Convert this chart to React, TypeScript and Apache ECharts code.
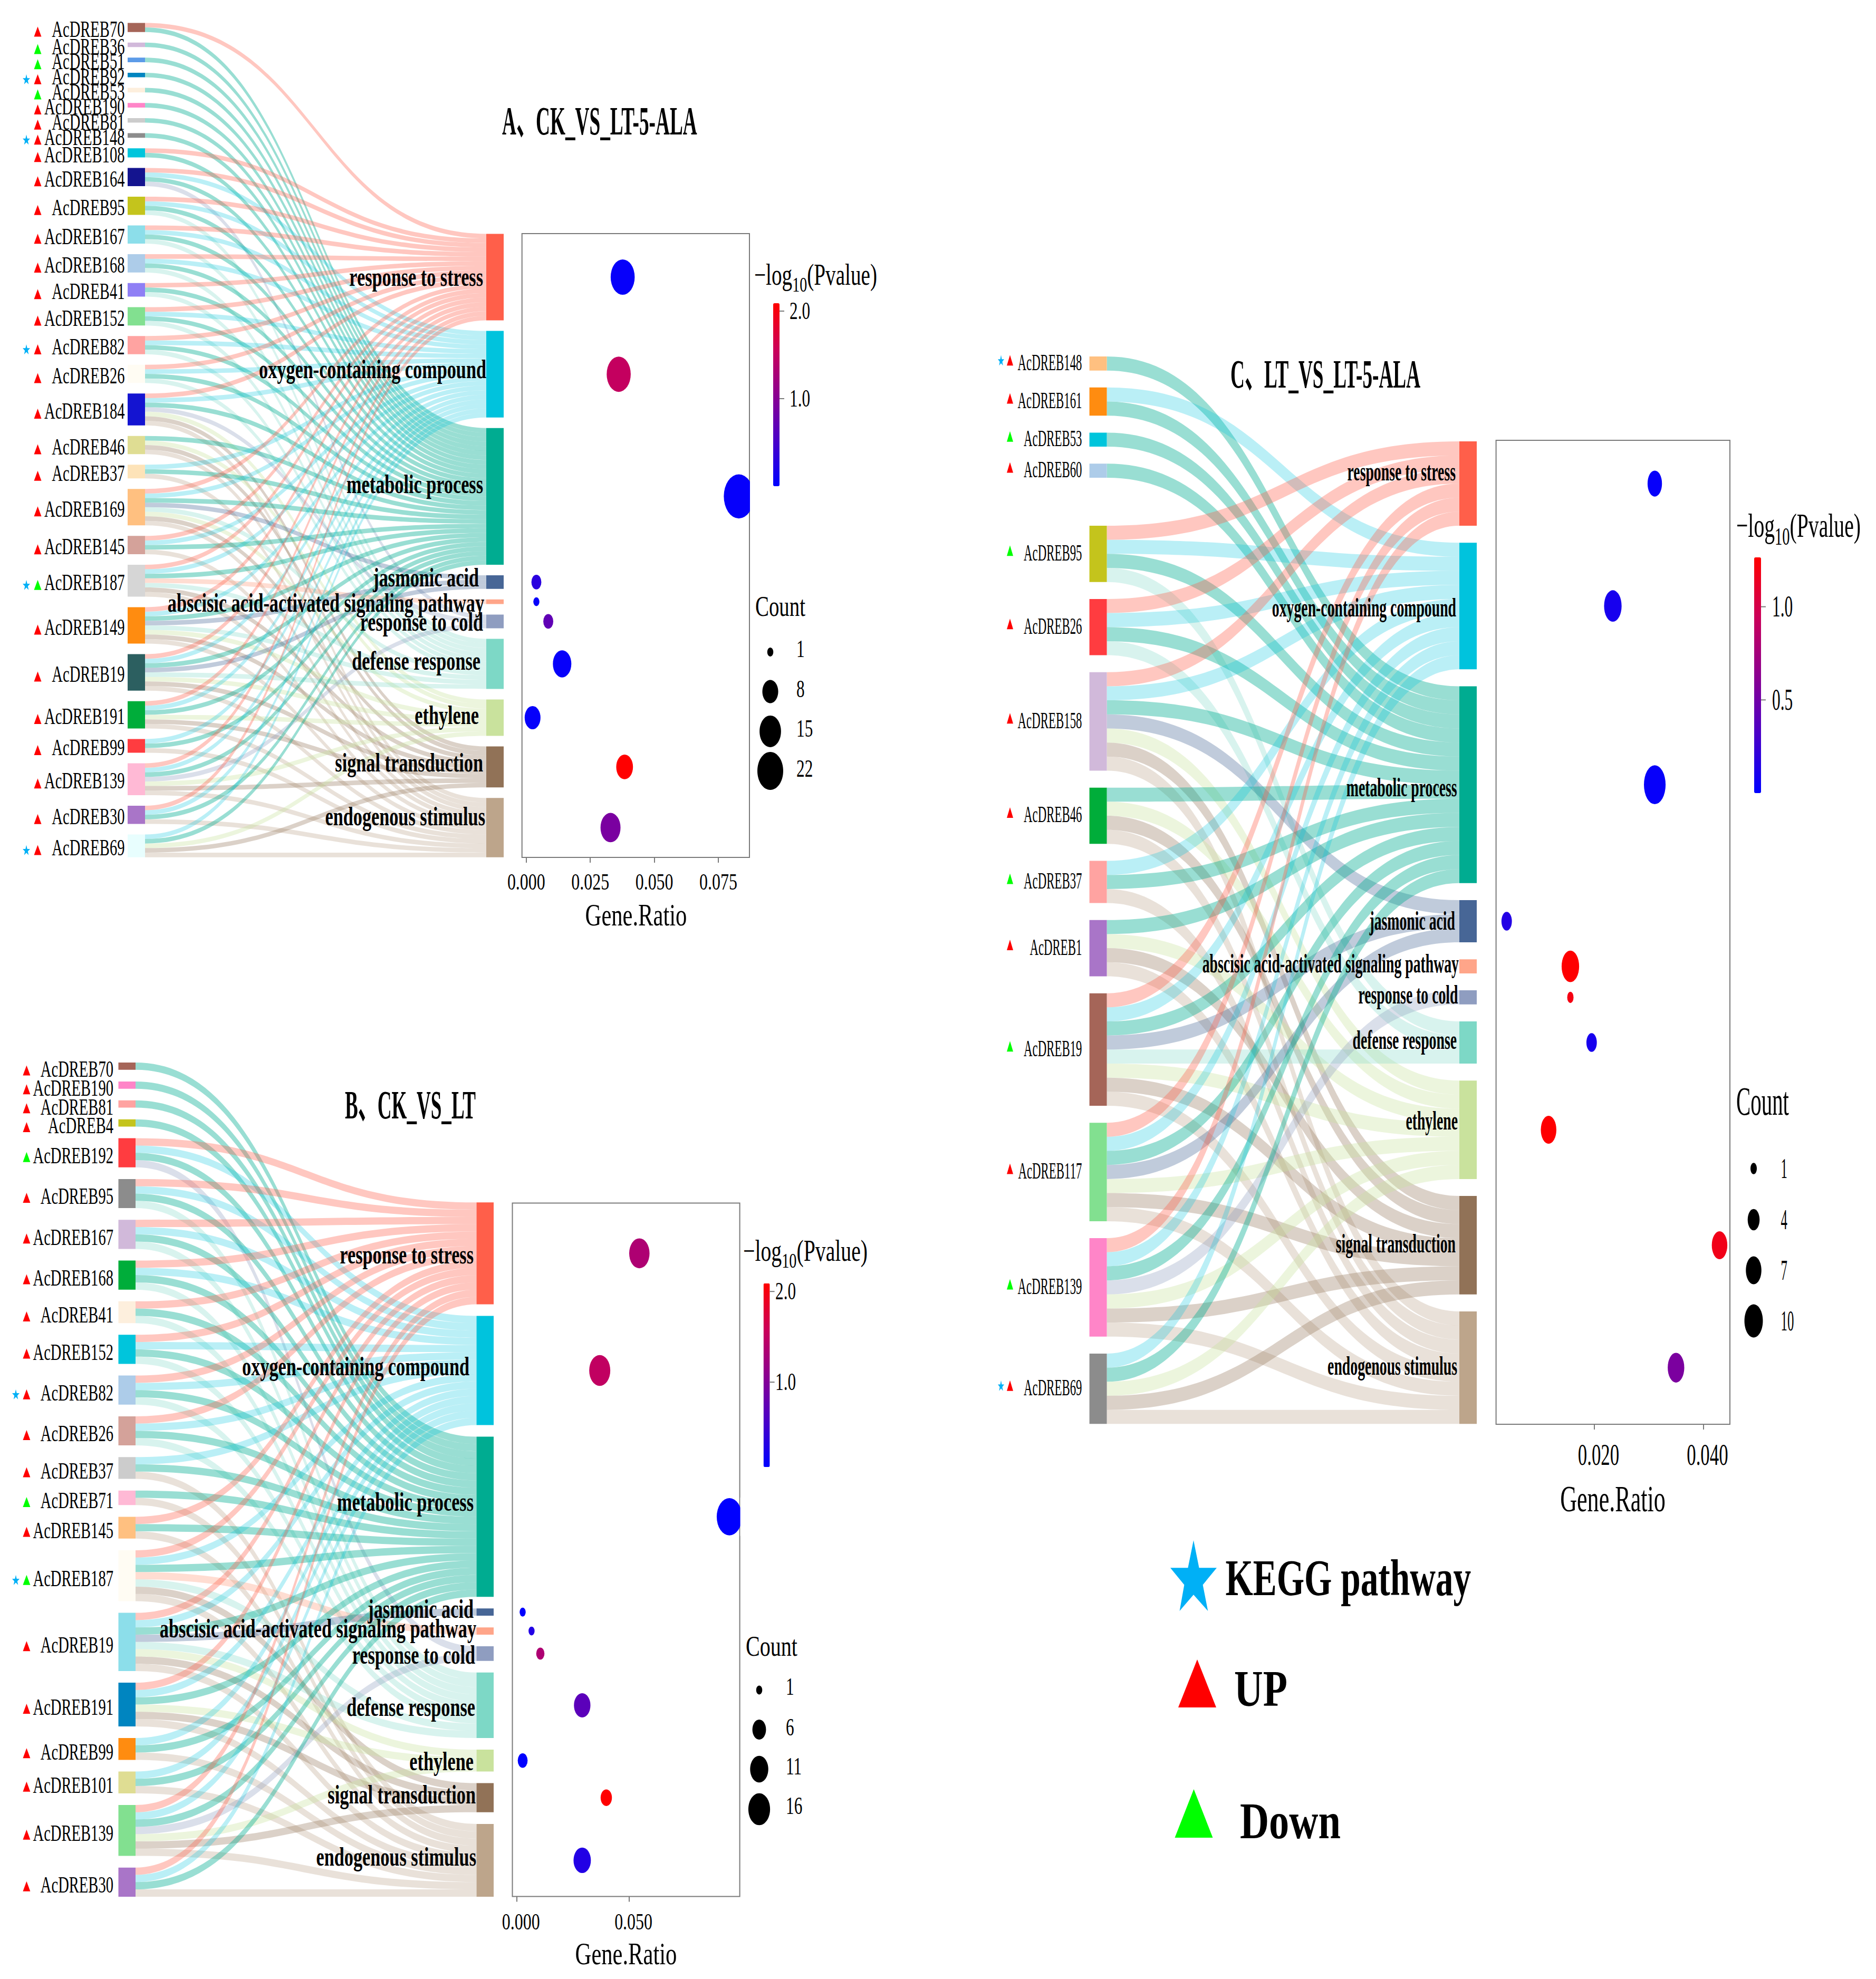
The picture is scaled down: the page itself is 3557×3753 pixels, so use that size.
import React, { useEffect, useRef } from "react";
import * as echarts from "echarts";

const FONT = '"Liberation Serif","Times New Roman","Noto Sans CJK SC",serif';

// ---- shared terms
const TERMS = ["response to stress","oxygen-containing compound","metabolic process","jasmonic acid","abscisic acid-activated signaling pathway","response to cold","defense response","ethylene","signal transduction","endogenous stimulus"];
const TERM_CODES = "SOMJACDETN";
const TERM_COLORS = ["#FF5F4A","#00C3DD","#00AC91","#476696","#FFA589","#8F9DC0","#7DD8C6","#C9E29D","#917257","#BDA58B"];
const LINK_OPACITY = [0.35,0.27,0.4,0.34,0.38,0.33,0.3,0.35,0.33,0.33];
const P_STOPS = ["#0000FF","#4A00C8","#8C0090","#CC0058","#FF0000"];

// ---- panel A
const genesA = ["AcDREB70","AcDREB36","AcDREB51","AcDREB92","AcDREB53","AcDREB190","AcDREB81","AcDREB148","AcDREB108","AcDREB164","AcDREB95","AcDREB167","AcDREB168","AcDREB41","AcDREB152","AcDREB82","AcDREB26","AcDREB184","AcDREB46","AcDREB37","AcDREB169","AcDREB145","AcDREB187","AcDREB149","AcDREB19","AcDREB191","AcDREB99","AcDREB139","AcDREB30","AcDREB69"];
const linksA = ["SM","M","M","M","M","M","M","M","SM","SOMC","SOMD","SOMD","SOMD","SMD","SOMD","SOMD","SOMD","SOMCETN","METN","OMN","SOMJDETN","SOMN","SOMADTN","SOMJDETN","SOMJDETN","SOMETN","OMN","SOMCETN","SOMN","OMETN"];
const marksA = ["U","D","D","*U","D","U","U","*U","U","U","U","U","U","U","U","*U","U","U","U","U","U","U","*D","U","U","U","U","U","U","*U"];
const colorsA = ["#A56558","#D1B9DA","#5C9BE8","#0085C0","#FDEFDD","#FF85C8","#CCCCCC","#8C8C8C","#00C5DC","#14148F","#C4C41C","#8CDEEA","#ADCCE9","#8F7FF5","#82E090","#FFA3A1","#FFFCF3","#1414D1","#DFDD93","#FDE3B8","#FFC080","#D4A29A","#D6D6D6","#FF8C10","#2C5F60","#00AD3A","#FF3C40","#FFB9D5","#A975C8","#E8FEFE"];
const ratioA = [0.03765,0.0361,0.083,0.00395,0.00395,0.0086,0.014,0.00247,0.0384,0.0329];
const pvalA = [0.05,1.5,0.04,0.3,0.05,0.7,0.05,0.04,2.09,0.9];
const countA = [19,19,30,3,1,3,11,8,9,13];
const ticksA = [0,0.025,0.05,0.075];
const sizeLegendA = [1,8,15,22];
const barTicksA = [2,1];

// ---- panel B
const genesB = ["AcDREB70","AcDREB190","AcDREB81","AcDREB4","AcDREB192","AcDREB95","AcDREB167","AcDREB168","AcDREB41","AcDREB152","AcDREB82","AcDREB26","AcDREB37","AcDREB71","AcDREB145","AcDREB187","AcDREB19","AcDREB191","AcDREB99","AcDREB101","AcDREB139","AcDREB30"];
const linksB = ["M","M","M","M","SOMC","SOMD","SOMD","SOMD","SMD","SOMD","SOMD","SOMD","OMN","MN","SMN","SOMADTN","SOMJDETN","SOMETN","OMN","OMN","SOMCETN","SOMN"];
const marksB = ["U","U","U","U","D","U","U","U","U","U","*U","U","U","D","U","*D","U","U","U","U","U","U"];
const colorsB = ["#A56558","#FF85C8","#FFA3A1","#C4C41C","#FF3C40","#8C8C8C","#D1B9DA","#00AD3A","#FDEFDD","#00C5DC","#ADCCE9","#D4A29A","#CCCCCC","#FFB9D5","#FFC080","#FFFCF3","#8CDEEA","#0085C0","#FF8C10","#DFDD93","#82E090","#A975C8"];
const ratioB = [0.0545,0.0369,0.0945,0.00265,0.0066,0.0105,0.0291,0.00265,0.0398,0.0291];
const pvalB = [1.35,1.5,0.07,0.07,0.3,1.35,0.7,0.07,2.09,0.3];
const countB = [14,15,22,1,1,2,9,3,4,10];
const ticksB = [0,0.05];
const sizeLegendB = [1,6,11,16];
const barTicksB = [2,1];

// ---- panel C
const genesC = ["AcDREB148","AcDREB161","AcDREB53","AcDREB60","AcDREB_none","AcDREB95","AcDREB26","AcDREB158","AcDREB46","AcDREB37","AcDREB1","AcDREB19","AcDREB117","AcDREB139","AcDREB69"];
const linksC = ["M","OM","M","M","A","SOMD","SOMD","SOMJETN","METN","OMN","METN","SOMJDETN","SOMJETN","SOMCETN","OMETN"];
const marksC = ["*U","U","D","U","","D","U","U","U","D","U","D","U","D","*U"];
const colorsC = ["#FFC080","#FF8C10","#00C5DC","#ADCCE9","#FFFFFF","#C4C41C","#FF3C40","#D1B9DA","#00AD3A","#FFA3A1","#A975C8","#A56558","#82E090","#FF85C8","#8C8C8C"];
const ratioC = [0.0311,0.0234,0.0311,0.0039,0.0156,0.0156,0.0195,0.0116,0.043,0.035];
const pvalC = [0.03,0.1,0.03,0.15,1.26,1.2,0.1,1.26,1.18,0.55];
const countC = [6,9,14,3,9,1,3,7,7,8];
const ticksC = [0.02,0.04];
const sizeLegendC = [1,4,7,10];
const barTicksC = [1,0.5];

// ---- layout (pixels of the page)
const PANELS = [
  { genes: genesA, links: linksA, marks: marksA, colors: colorsA, ratio: ratioA, pval: pvalA, count: countA, ticks: ticksA, tickFmt: 3, sizes: sizeLegendA, barTicks: barTicksA,
    nodeL: 242, nodeR: 955, nodeW: 33, top: 43.4, unit: 8.64, gap: 20,
    geneRight: 236.5, geneSX: 0.65, geneDy: 3, triX: 71.5, triW: 14, triH: 19, triDy: 8, starX: 50, starW: 14, starH: 19,
    termSX: 0.685, termDy: -2, termPos: [[916,527],[922,702],[916,920],[908,1097],[918,1145],[916,1181],[911,1255],[908,1358],[916,1448],[920,1550]],
    title: "A、CK_VS_LT-5-ALA", titleX: 952, titleW: 370, titleY: 230,
    grid: { l: 989.7, r: 1421, t: 443, b: 1626 }, xMin: -0.00167, xMax: 0.08715,
    sizeA: 1.3, sizeB: 10.16, sizeR: 1.47,
    tickY: 1671, tickDx: 0, tickSize: 45, tickSX: 0.71, xTitleX: 1206, xTitleY: 1735, xTitleSize: 60, xTitleSX: 0.71,
    bar: { x: 1466, w: 12, t: 575, b: 922, pMin: 0, pMax: 2.09, labelX: 1497, labelSize: 46, labelSX: 0.68 },
    pTitleX: 1430, pTitleY: 521, pTitleW: 233, pTitleSize: 56,
    countX: 1432, countY: 1150, countW: 95, countSize: 55,
    legX: 1460.5, legY: [1236.5,1311.5,1387,1462], legLabelX: 1510, legLabelY: [1231,1307,1382,1458], legLabelSize: 46, legLabelSX: 0.68 },
  { genes: genesB, links: linksB, marks: marksB, colors: colorsB, ratio: ratioB, pval: pvalB, count: countB, ticks: ticksB, tickFmt: 3, sizes: sizeLegendB, barTicks: barTicksB,
    nodeL: 224.5, nodeR: 936, nodeW: 32.5, top: 2015, unit: 13.8, gap: 22.1,
    geneRight: 215, geneSX: 0.65, geneDy: 5, triX: 50.4, triW: 14, triH: 19, triDy: 8, starX: 30, starW: 14, starH: 19,
    termSX: 0.685, termDy: -2, termPos: [[898,2381],[890,2593],[898,2850],[898,3053.5],[903,3090],[901,3140],[901,3239],[898,3342],[902,3405],[903,3523]],
    title: "B、CK_VS_LT", titleX: 654, titleW: 248, titleY: 2096,
    grid: { l: 971.5, r: 1402.6, t: 2281.6, b: 3596.4 }, xMin: -0.00192, xMax: 0.0991,
    sizeA: 1.6, sizeB: 9.9, sizeR: 1.47,
    tickY: 3643, tickDx: 8, tickSize: 45, tickSX: 0.71, xTitleX: 1187, xTitleY: 3704.5, xTitleSize: 60, xTitleSX: 0.71,
    bar: { x: 1447.6, w: 12, t: 2433.7, b: 2782, pMin: 0.064, pMax: 2.09, labelX: 1470, labelSize: 46, labelSX: 0.68 },
    pTitleX: 1409, pTitleY: 2372, pTitleW: 236, pTitleSize: 56,
    countX: 1414, countY: 3121, countW: 98, countSize: 55,
    legX: 1439.5, legY: [3205,3280,3355,3431], legLabelX: 1490, legLabelY: [3199,3276,3350,3425], legLabelSize: 46, legLabelSX: 0.68 },
  { genes: genesC, links: linksC, marks: marksC, colors: colorsC, ratio: ratioC, pval: pvalC, count: countC, ticks: ticksC, tickFmt: 3, sizes: sizeLegendC, barTicks: barTicksC,
    nodeL: 2065.6, nodeR: 2800, nodeW: 33, top: 676, unit: 26.67, gap: 32.2,
    geneRight: 2051.5, geneSX: 0.52, geneDy: -2, triX: 1915, triW: 12, triH: 20, triDy: -6, starX: 1898, starW: 12, starH: 20,
    termSX: 0.555, termDy: -2, termPos: [[2760,896.6],[2761,1154],[2762.6,1495],[2759,1748],[2766,1829],[2764.5,1888],[2762,1974],[2764,2127],[2760,2360],[2763,2592]],
    title: "C、LT_VS_LT-5-ALA", titleX: 2333, titleW: 360, titleY: 710,
    grid: { l: 2836.6, r: 3280, t: 835, b: 2701 }, xMin: 0.00195, xMax: 0.0449,
    sizeA: 1.4, sizeB: 10.6, sizeR: 1.8,
    tickY: 2758, tickDx: 8, tickSize: 58, tickSX: 0.6, xTitleX: 3058, xTitleY: 2843, xTitleSize: 70, xTitleSX: 0.63,
    bar: { x: 3326, w: 13, t: 1057, b: 1504, pMin: 0, pMax: 1.265, labelX: 3360, labelSize: 56, labelSX: 0.56 },
    pTitleX: 3292, pTitleY: 997, pTitleW: 236, pTitleSize: 64,
    countX: 3292, countY: 2088, countW: 100, countSize: 76,
    legX: 3325, legY: [2216,2313,2409,2505], legLabelX: 3376.5, legLabelY: [2216,2313,2409,2505], legLabelSize: 54, legLabelSX: 0.46 },
];

const STAR = [[0.5,0],[0.62,0.39],[1,0.39],[0.7,0.63],[0.81,1],[0.5,0.77],[0.2,1],[0.3,0.63],[0,0.39],[0.38,0.39]];
const ELLIPSE = "path://M0 1A1 1 0 1 1 2 1A1 1 0 1 1 0 1Z";
const RED = "#FF0000", GREEN = "#00FF00", BLUE = "#00B0F6";

const App = () => {
  const ref = useRef<HTMLDivElement>(null);
  useEffect(() => {
    const chart = echarts.init(ref.current!, null, { renderer: "svg", width: 3557, height: 3753 });
    const ctx = document.createElement("canvas").getContext("2d")!;
    const fit = (text: string, font: string, width: number) => { ctx.font = font; return width / ctx.measureText(text).width; };

    const txt = (x: number, y: number, text: string, size: number, sx: number, align = "left", bold = false) => ({
      type: "text", x, y, scaleX: sx, z: 20, silent: true,
      style: { text, fontFamily: FONT, fontSize: size, fontWeight: bold ? "bold" : "normal", fill: "#000", align, verticalAlign: "middle" },
    });
    const tri = (cx: number, cy: number, w: number, h: number, fill: string) => ({
      type: "polygon", z: 20, silent: true, shape: { points: [[cx, cy - h / 2], [cx + w / 2, cy + h / 2], [cx - w / 2, cy + h / 2]] }, style: { fill },
    });
    const star = (cx: number, cy: number, w: number, h: number) => ({
      type: "polygon", z: 20, silent: true, shape: { points: STAR.map(([a, b]) => [cx + (a - 0.5) * w, cy + (b - 0.5) * h]) }, style: { fill: BLUE },
    });

    const series: any[] = [], grids: any[] = [], xAxes: any[] = [], yAxes: any[] = [], visualMaps: any[] = [], graphics: any[] = [];

    PANELS.forEach((p, i) => {
      const n = p.genes.length;
      const total = p.links.reduce((s, l) => s + l.length, 0);
      const H = total * p.unit + (n - 1) * p.gap;
      const termCount = TERM_CODES.split("").map((c) => p.links.join("").split(c).length - 1);
      // right column: stacked so that it ends at the same bottom as the left column
      const termTop: number[] = [];
      let yR = p.top + H - total * p.unit - (TERMS.length - 1) * p.gap;
      termCount.forEach((c, k) => { termTop[k] = yR; yR += c * p.unit + p.gap; });
      const termCentre = termCount.map((c, k) => termTop[k] + (c * p.unit) / 2);

      const nodes: any[] = [];
      const links: any[] = [];
      let yL = p.top;
      p.genes.forEach((g, k) => {
        const h = p.links[k].length * p.unit;
        const mark = p.marks[k];
        nodes.push({ name: g, localY: (yL - p.top) / H, itemStyle: { color: p.colors[k], opacity: mark ? 1 : 0, borderWidth: 0 } });
        p.links[k].split("").forEach((c) => {
          const t = TERM_CODES.indexOf(c);
          links.push({ source: g, target: TERMS[t], value: 1, lineStyle: { color: TERM_COLORS[t], opacity: mark ? LINK_OPACITY[t] : 0, curveness: 0.5 } });
        });
        if (mark) {
          const c = yL + h / 2;
          graphics.push(txt(p.geneRight, c + p.geneDy, g, 44, p.geneSX, "right"));
          graphics.push(tri(p.triX, c + p.triDy, p.triW, p.triH, mark.includes("U") ? RED : GREEN));
          if (mark.includes("*")) graphics.push(star(p.starX, c + p.triDy, p.starW, p.starH));
        }
        yL += h + p.gap;
      });
      TERMS.forEach((t, k) => {
        nodes.push({ name: t, localY: (termTop[k] - p.top) / H, itemStyle: { color: TERM_COLORS[k], borderWidth: 0 } });
        graphics.push(txt(p.termPos[k][0], p.termPos[k][1] + p.termDy, t, 50, p.termSX, "right", true));
      });

      series.push({
        type: "sankey", left: p.nodeL, top: p.top, width: p.nodeR - p.nodeL, height: H,
        nodeWidth: p.nodeW, nodeGap: p.gap, layoutIterations: 0, nodeAlign: "justify", draggable: false, silent: true,
        label: { show: false }, emphasis: { disabled: true }, data: nodes, links,
      });

      // dot panel
      const g = p.grid;
      grids.push({ left: g.l, top: g.t, width: g.r - g.l, height: g.b - g.t, show: true, borderColor: "#7a7a7a", borderWidth: 2, backgroundColor: "transparent" });
      xAxes.push({
        type: "value", gridIndex: i, min: p.xMin, max: p.xMax, splitLine: { show: false }, axisLine: { show: false },
        axisTick: { show: true, length: 10, customValues: p.ticks, lineStyle: { color: "#7a7a7a", width: 2 } }, axisLabel: { show: false },
      });
      yAxes.push({ type: "value", gridIndex: i, min: g.t, max: g.b, inverse: true, show: false, splitLine: { show: false } });
      const dotW = (c: number) => p.sizeA + p.sizeB * Math.sqrt(c);
      series.push({
        type: "scatter", xAxisIndex: i, yAxisIndex: i, clip: true, silent: true, symbol: ELLIPSE,
        symbolSize: (v: number[]) => { const w = dotW(v[3]); return [w, w * p.sizeR]; },
        itemStyle: { opacity: 1 },
        encode: { x: 0, y: 1 },
        data: p.ratio.map((r, k) => [r, termCentre[k], p.pval[k], p.count[k]]),
      });
      const b = p.bar;
      visualMaps.push({
        type: "continuous", seriesIndex: 2 * i + 1, dimension: 2, min: b.pMin, max: b.pMax, inRange: { color: P_STOPS },
        show: true, left: b.x, top: b.t, itemWidth: b.w, itemHeight: b.b - b.t, padding: 0, text: null, showLabel: false, calculable: false, hoverLink: false, realtime: false, orient: "vertical", silent: true,
      });
      const toX = (v: number) => g.l + ((v - p.xMin) / (p.xMax - p.xMin)) * (g.r - g.l);
      // the panel frame cuts off a dot that runs past its right edge
      p.ratio.forEach((r, k) => {
        const w = dotW(p.count[k]);
        if (toX(r) + w / 2 > g.r) {
          graphics.push({ type: "rect", z: 5, silent: true, shape: { x: g.r + 1, y: termCentre[k] - (w * p.sizeR) / 2 - 1, width: toX(r) + w / 2 - g.r + 3, height: w * p.sizeR + 2 }, style: { fill: "#fff" } });
        }
      });
      p.ticks.forEach((v) => graphics.push(txt(toX(v) + p.tickDx, p.tickY, v.toFixed(p.tickFmt), p.tickSize, p.tickSX, "center")));
      graphics.push(txt(p.xTitleX, p.xTitleY, "Gene.Ratio", p.xTitleSize, p.xTitleSX, "center"));
      p.barTicks.forEach((v) => {
        const y = b.b - ((v - b.pMin) / (b.pMax - b.pMin)) * (b.b - b.t);
        graphics.push({ type: "line", z: 20, silent: true, shape: { x1: b.x + b.w, y1: y, x2: b.x + b.w + 9, y2: y }, style: { stroke: "#7a7a7a", lineWidth: 2 } });
        graphics.push(txt(b.labelX, y, v.toFixed(1), b.labelSize, b.labelSX));
      });
      // -log10(Pvalue) heading
      const sizeT = p.pTitleSize, sub = Math.round(sizeT * 0.72);
      const fontN = `${sizeT}px ${FONT}`, fontS = `${sub}px ${FONT}`;
      ctx.font = fontN; const w1 = ctx.measureText("−log").width, w3 = ctx.measureText("(Pvalue)").width;
      ctx.font = fontS; const w2 = ctx.measureText("10").width;
      const sx = p.pTitleW / (w1 + w2 + w3);
      graphics.push(txt(p.pTitleX, p.pTitleY, "−log", sizeT, sx));
      graphics.push(txt(p.pTitleX + w1 * sx, p.pTitleY + sizeT * 0.32, "10", sub, sx));
      graphics.push(txt(p.pTitleX + (w1 + w2) * sx, p.pTitleY, "(Pvalue)", sizeT, sx));
      // count legend
      graphics.push(txt(p.countX, p.countY, "Count", p.countSize, fit("Count", `${p.countSize}px ${FONT}`, p.countW)));
      p.sizes.forEach((c, k) => {
        const w = dotW(c);
        graphics.push({ type: "ellipse", z: 20, silent: true, shape: { cx: p.legX, cy: p.legY[k], rx: w / 2, ry: (w * p.sizeR) / 2 }, style: { fill: "#000" } });
        graphics.push(txt(p.legLabelX, p.legLabelY[k], String(c), p.legLabelSize, p.legLabelSX));
      });
      // title
      graphics.push(txt(p.titleX, p.titleY, p.title, 76, fit(p.title, `bold 76px ${FONT}`, p.titleW), "left", true));
    });

    // key
    const keyFont = `bold 97px ${FONT}`;
    graphics.push(star(2263, 2988, 88, 134));
    graphics.push(txt(2323.5, 2992, "KEGG pathway", 97, fit("KEGG pathway", keyFont, 465.5), "left", true));
    graphics.push(tri(2270, 3192.5, 72, 91, RED));
    graphics.push(txt(2340, 3202, "UP", 97, fit("UP", keyFont, 101), "left", true));
    graphics.push(tri(2263.5, 3439, 72, 92, GREEN));
    graphics.push(txt(2351, 3453, "Down", 97, fit("Down", keyFont, 191), "left", true));

    chart.setOption({
      animation: false,
      backgroundColor: "#fff",
      textStyle: { fontFamily: FONT },
      grid: grids, xAxis: xAxes, yAxis: yAxes, visualMap: visualMaps,
      series,
      graphic: { elements: graphics },
    });
    return () => chart.dispose();
  }, []);
  return <div ref={ref} style={{ position: "absolute", left: 0, top: 0, width: 3557, height: 3753 }} />;
};

export default App;
